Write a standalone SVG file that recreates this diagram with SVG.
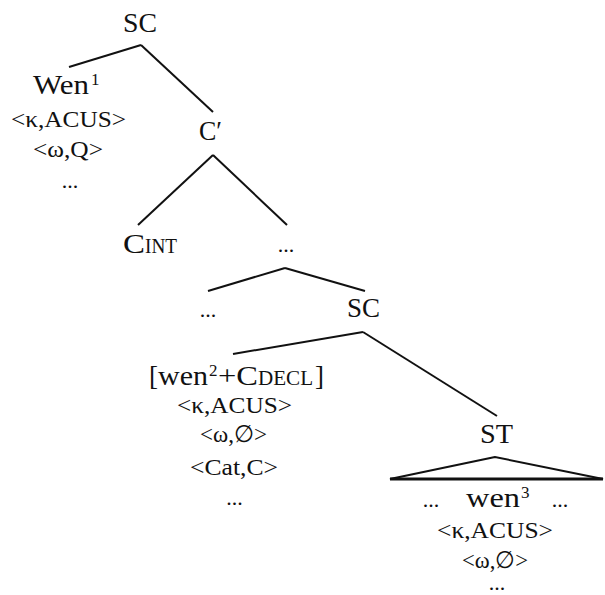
<svg xmlns="http://www.w3.org/2000/svg" width="605" height="595" viewBox="0 0 605 595">
<style>
text{font-family:"Liberation Serif","DejaVu Serif",serif;fill:#111}
.b{font-size:27px}
.s{font-size:24px}
.sc{font-size:20px}
.sup{font-size:17px}
.d{font-size:22px}
line,polygon{stroke:#111;stroke-width:2;fill:none}
</style>
<rect width="605" height="595" fill="#fff"/>
<g id="connectors">
<line x1="141" y1="45" x2="69" y2="67"/>
<line x1="141" y1="45" x2="213" y2="112"/>
<line x1="213" y1="155" x2="138" y2="225"/>
<line x1="213" y1="155" x2="287" y2="225"/>
<line x1="285" y1="268" x2="208" y2="291"/>
<line x1="285" y1="268" x2="365" y2="291"/>
<line x1="363" y1="332" x2="233" y2="354"/>
<line x1="363" y1="332" x2="497" y2="416"/>
</g>
<g id="sc-top"><text class="b" x="123" y="32" textLength="34" lengthAdjust="spacingAndGlyphs">SC</text></g>
<g id="wen1">
<text class="b" x="33" y="94" textLength="56" lengthAdjust="spacingAndGlyphs">Wen</text>
<text class="sup" x="91" y="85">1</text>
<text class="s" x="11" y="127" textLength="115" lengthAdjust="spacingAndGlyphs">&lt;κ,ACUS&gt;</text>
<text class="s" x="33" y="157" textLength="70" lengthAdjust="spacingAndGlyphs">&lt;ω,Q&gt;</text>
<text class="d" x="70" y="188" text-anchor="middle">...</text>
</g>
<g id="cbar"><text class="b" x="199" y="140" textLength="23" lengthAdjust="spacingAndGlyphs">C′</text></g>
<g id="cint">
<text class="b" x="123" y="253" textLength="22" lengthAdjust="spacingAndGlyphs">C</text>
<text class="sc" x="145" y="253" textLength="32" lengthAdjust="spacingAndGlyphs">INT</text>
</g>
<g id="dots1"><text class="d" x="286" y="252" text-anchor="middle">...</text></g>
<g id="dots2"><text class="d" x="208" y="317" text-anchor="middle">...</text></g>
<g id="sc-mid"><text class="b" x="347" y="317" textLength="33" lengthAdjust="spacingAndGlyphs">SC</text></g>
<g id="wen2">
<text class="b" x="149" y="385">[</text>
<text class="b" x="158" y="385" textLength="50" lengthAdjust="spacingAndGlyphs">wen</text>
<text class="sup" x="209" y="376">2</text>
<text class="b" x="218" y="385" textLength="40" lengthAdjust="spacingAndGlyphs">+C</text>
<text class="sc" x="258" y="385" textLength="55" lengthAdjust="spacingAndGlyphs">DECL</text>
<text class="b" x="315" y="385">]</text>
<text class="s" x="177" y="413" textLength="115" lengthAdjust="spacingAndGlyphs">&lt;κ,ACUS&gt;</text>
<text class="s" x="200" y="442" textLength="67" lengthAdjust="spacingAndGlyphs">&lt;ω,∅&gt;</text>
<text class="s" x="190" y="475" textLength="88" lengthAdjust="spacingAndGlyphs">&lt;Cat,C&gt;</text>
<text class="d" x="234.5" y="505" text-anchor="middle">...</text>
</g>
<g id="st">
<text class="b" x="480" y="443" textLength="33" lengthAdjust="spacingAndGlyphs">ST</text>
<polygon points="495,457 390,479 603,479"/>
<line x1="390" y1="479" x2="603" y2="479" style="stroke-width:3"/>
<text class="d" x="431" y="507" text-anchor="middle">...</text>
<text class="b" x="466" y="507" textLength="54" lengthAdjust="spacingAndGlyphs">wen</text>
<text class="sup" x="521" y="498">3</text>
<text class="d" x="560" y="507" text-anchor="middle">...</text>
<text class="s" x="437" y="538" textLength="116" lengthAdjust="spacingAndGlyphs">&lt;κ,ACUS&gt;</text>
<text class="s" x="462" y="568" textLength="66" lengthAdjust="spacingAndGlyphs">&lt;ω,∅&gt;</text>
<text class="d" x="497" y="590" text-anchor="middle">...</text>
</g>
</svg>
